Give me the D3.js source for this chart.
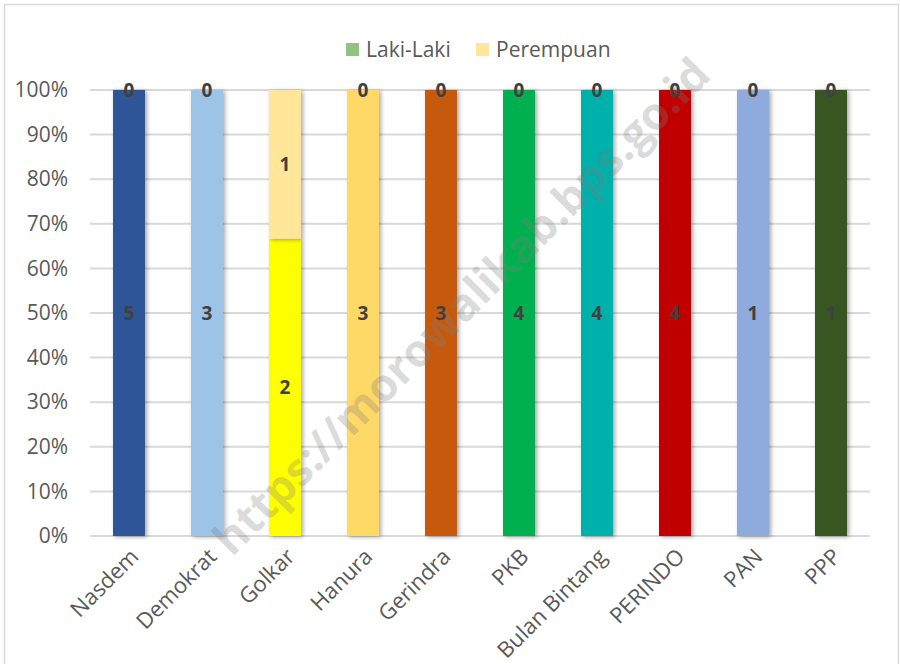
<!DOCTYPE html>
<html><head><meta charset="utf-8">
<script src="https://cdn.jsdelivr.net/npm/d3@7"></script>
<style>body{margin:0;background:#fff}svg{display:block}</style>
</head><body>
<svg id="c" width="900" height="664"></svg>
<script>
const categories = ["Nasdem","Demokrat","Golkar","Hanura","Gerindra","PKB","Bulan Bintang","PERINDO","PAN","PPP"];
const lakiLaki = [5,3,2,3,3,4,4,4,1,1];
const perempuan = [0,0,1,0,0,0,0,0,0,0];
const seriesNames = ["Laki-Laki","Perempuan"];
const lakiColors = ["#2F5597","#9DC3E6","#FFFF00","#FFD966","#C55A11","#00B050","#00B0AA","#C00000","#8FAADC","#375623"];
const perempuanColors = ["#2F5597","#9DC3E6","#FFE699","#FFD966","#C55A11","#00B050","#00B0AA","#C00000","#8FAADC","#375623"];
const legendColors = ["#8FC47F","#FFE699"];
const yTicks = [0,0.1,0.2,0.3,0.4,0.5,0.6,0.7,0.8,0.9,1];

const svg = d3.select("#c");
const font = "'Open Sans', sans-serif";
const m = {l:90, r:870, t:90, b:536};

// border
svg.append("rect").attr("x",4.5).attr("y",4.5).attr("width",894).attr("height",680)
  .attr("fill","#fff").attr("stroke","#D9D9D9").attr("stroke-width",1.5);

const defs = svg.append("defs");
const f = defs.append("filter").attr("id","sh").attr("x","-30%").attr("y","-5%").attr("width","160%").attr("height","110%");
f.append("feDropShadow").attr("dx",2).attr("dy",1).attr("stdDeviation",2).attr("flood-color","#000").attr("flood-opacity",0.35);

const x = d3.scaleBand().domain(categories).range([m.l, m.r]).paddingInner(0.59).paddingOuter(0.295);
const y = d3.scaleLinear().domain([0,1]).range([m.b, m.t]);

// gridlines
svg.append("g").selectAll("line").data(yTicks).join("line")
  .attr("x1",m.l).attr("x2",m.r).attr("y1",d=>y(d)).attr("y2",d=>y(d))
  .attr("stroke","#D9D9D9").attr("stroke-width",2);

// y axis
const yAxis = d3.axisLeft(y).tickValues(yTicks).tickFormat(d3.format(".0%")).tickSize(0).tickPadding(22);
const ya = svg.append("g").attr("transform",`translate(${m.l},0)`).call(yAxis);
ya.select(".domain").remove();
ya.selectAll("text").attr("font-family",font).attr("font-size",21).attr("fill","#595959");

// stacked data
const data = categories.map((c,i)=>{
  const tot = lakiLaki[i]+perempuan[i];
  return {c, i, l:lakiLaki[i], p:perempuan[i], lf:lakiLaki[i]/tot, pf:perempuan[i]/tot};
});

const bars = svg.append("g");
bars.selectAll("rect.l").data(data).join("rect").attr("class","l")
  .attr("x",d=>x(d.c)).attr("width",x.bandwidth())
  .attr("y",d=>y(d.lf)).attr("height",d=>y(0)-y(d.lf))
  .attr("fill",d=>lakiColors[d.i]).attr("filter","url(#sh)");
bars.selectAll("rect.p").data(data.filter(d=>d.pf>0)).join("rect").attr("class","p")
  .attr("x",d=>x(d.c)).attr("width",x.bandwidth())
  .attr("y",d=>y(1)).attr("height",d=>y(d.lf)-y(1))
  .attr("fill",d=>perempuanColors[d.i]).attr("filter","url(#sh)");

// watermark
svg.append("text").attr("transform","translate(460,305) rotate(-45)")
  .attr("text-anchor","middle").attr("dominant-baseline","central")
  .attr("font-family",font).attr("font-weight",700).attr("font-size",45)
  .attr("fill","#7F7F7F").attr("fill-opacity",0.28)
  .text("https://morowalikab.bps.go.id");

// labels
const lab = svg.append("g").attr("font-family",font).attr("font-weight",700).attr("font-size",19).attr("fill","#404040").attr("text-anchor","middle");
lab.selectAll("text.l").data(data).join("text").attr("class","l")
  .attr("x",d=>x(d.c)+x.bandwidth()/2).attr("y",d=>y(d.lf/2)).attr("dy","0.35em").text(d=>d.l);
lab.selectAll("text.p").data(data).join("text").attr("class","p")
  .attr("x",d=>x(d.c)+x.bandwidth()/2).attr("y",d=>y(d.lf+d.pf/2)).attr("dy","0.35em").text(d=>d.p);

// x axis
const xAxis = d3.axisBottom(x).tickSize(0).tickPadding(0);
const xa = svg.append("g").attr("transform",`translate(0,${m.b})`).call(xAxis);
xa.select(".domain").remove();
xa.selectAll("text").attr("font-family",font).attr("font-size",22).attr("fill","#595959")
  .attr("text-anchor","end").attr("dy",0).attr("y",0)
  .attr("transform","translate(11,22) rotate(-45)");

// legend
const lg = svg.append("g").attr("font-family",font).attr("font-size",21).attr("fill","#595959");
const lx = [346, 476];
seriesNames.forEach((s,i)=>{
  lg.append("rect").attr("x",lx[i]).attr("y",43).attr("width",13).attr("height",13).attr("fill",legendColors[i]);
  lg.append("text").attr("x",lx[i]+20).attr("y",50).attr("dy","0.35em").text(s);
});
</script>
</body></html>
